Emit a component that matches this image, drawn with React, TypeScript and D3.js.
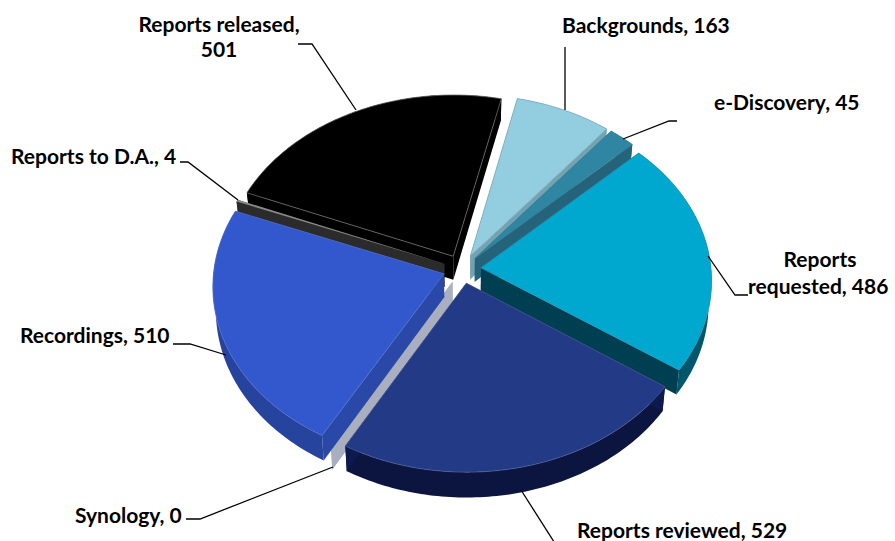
import React from "react";
import * as d3 from "d3";

const categories = ["Backgrounds", "e-Discovery", "Reports requested", "Reports reviewed", "Synology", "Recordings", "Reports to D.A.", "Reports released"];
const values = [163, 45, 486, 529, 0, 510, 4, 501];
const topColors = ["#93cde0", "#2f86a3", "#00a8d0", "#233a86", "#a9afbf", "#3358cd", "#8a8a8a", "#000000"];
const radialWallColors = ["#73a3b3", "#24637a", "#003f52", "#0d1a4d", "#a9afbf", "#2a48a8", "#2b2b2b", "#000000"];
const outerWallColors = ["#73a3b3", "#24637a", "#00566a", "#0c1540", "#a9afbf", "#26439e", "#2b2b2b", "#000000"];
const edgeColors = ["#7fa9b8", "#3d7f96", "#2a93b0", "#4a5a94", "none", "#4f6cc4", "none", "#6a6a6a"];
const paintOrder = [7, 6, 0, 1, 2, 4, 5, 3];

const labels = [
  { lines: ["Reports released,", "501"], x: 219, y: [32, 57], anchor: "middle" },
  { lines: ["Backgrounds, 163"], x: 562, y: [33], anchor: "start" },
  { lines: ["e-Discovery, 45"], x: 714, y: [110], anchor: "start" },
  { lines: ["Reports"], x: 820, y: [267], anchor: "middle" },
  { lines: ["requested, 486"], x: 748, y: [294], anchor: "start" },
  { lines: ["Reports reviewed, 529"], x: 577, y: [538], anchor: "start" },
  { lines: ["Synology, 0"], x: 75, y: [523], anchor: "start" },
  { lines: ["Recordings, 510"], x: 20, y: [343], anchor: "start" },
  { lines: ["Reports to D.A., 4"], x: 11, y: [164], anchor: "start" },
];

const leaders: [number, number][][] = [
  [[298, 44], [312, 44], [356, 110]],
  [[565, 47], [565, 110]],
  [[677, 121], [669, 121], [623, 139]],
  [[748, 295], [735, 295], [708, 256]],
  [[521, 490], [556, 545]],
  [[186, 519], [200, 519], [333, 467]],
  [[173, 344], [190, 344], [226, 355]],
  [[180, 162], [188, 162], [238, 200]],
];

const START = (12.8 * Math.PI) / 180;
const CX = 462, CY = 269, RX = 230, RY = 174, PERSP = 0.0686, EXPLODE = 0.083, DEPTH = 23.5, BASE_SHRINK = 0.988;

type P = [number, number];
const project = (u: number, v: number): P => {
  const w = 1 + PERSP * v;
  return [CX + (RX * u) / w, CY - (RY * v) / w];
};
const extrude = (u: number, v: number): P => {
  const w = 1 + PERSP * v;
  const [x, y] = project(u, v);
  return [CX + (x - CX) * BASE_SHRINK, y + DEPTH / w];
};

const arcs = d3.pie<number>().sort(null).startAngle(START).endAngle(START + 2 * Math.PI)(values);
const line = d3.line<P>();

function Slice({ i }: { i: number }) {
  const a = arcs[i];
  const mid = (a.startAngle + a.endAngle) / 2;
  const ou = EXPLODE * Math.sin(mid), ov = EXPLODE * Math.cos(mid);
  const steps = Math.max(2, Math.ceil(((a.endAngle - a.startAngle) * 180) / Math.PI));
  const angles = d3.range(steps + 1).map((k) => a.startAngle + ((a.endAngle - a.startAngle) * k) / steps);
  const rim = angles.map((t) => [ou + Math.sin(t), ov + Math.cos(t)] as P);
  const topRim = rim.map(([u, v]) => project(u, v));
  const lowRim = rim.map(([u, v]) => extrude(u, v));
  const apexTop = project(ou, ov), apexLow = extrude(ou, ov);
  const last = rim.length - 1;
  const wallStart = [apexTop, topRim[0], lowRim[0], apexLow] as P[];
  const wallEnd = [apexTop, topRim[last], lowRim[last], apexLow] as P[];
  const outer = [...topRim, ...lowRim.slice().reverse()];
  const top = [apexTop, ...topRim];
  const hasTop = a.endAngle - a.startAngle > 0;
  return (
    <g>
      {hasTop && <path d={line(outer) + "Z"} fill={outerWallColors[i]} />}
      <path d={line(wallStart) + "Z"} fill={radialWallColors[i]} />
      <path d={line(wallEnd) + "Z"} fill={radialWallColors[i]} />
      {hasTop && (
        <path d={line(top) + "Z"} fill={topColors[i]} stroke={edgeColors[i]} strokeWidth={0.8} strokeLinejoin="round" />
      )}
    </g>
  );
}

export default function App() {
  return (
    <svg width={895} height={541} style={{ position: "absolute", left: 0, top: 0, background: "#fff" }} aria-label={categories.join(", ")}>
      {paintOrder.map((i) => (
        <Slice key={categories[i]} i={i} />
      ))}
      {leaders.map((l, i) => (
        <path key={i} d={line(l) ?? ""} fill="none" stroke="#000" strokeWidth={1.3} />
      ))}
      <g fontFamily="Lato, 'Open Sans', sans-serif" fontWeight={700} fontSize={21} fill="#000">
        {labels.flatMap((lb, i) =>
          lb.lines.map((t, j) => (
            <text key={`${i}-${j}`} x={lb.x} y={lb.y[j]} textAnchor={lb.anchor}>
              {t}
            </text>
          ))
        )}
      </g>
    </svg>
  );
}
